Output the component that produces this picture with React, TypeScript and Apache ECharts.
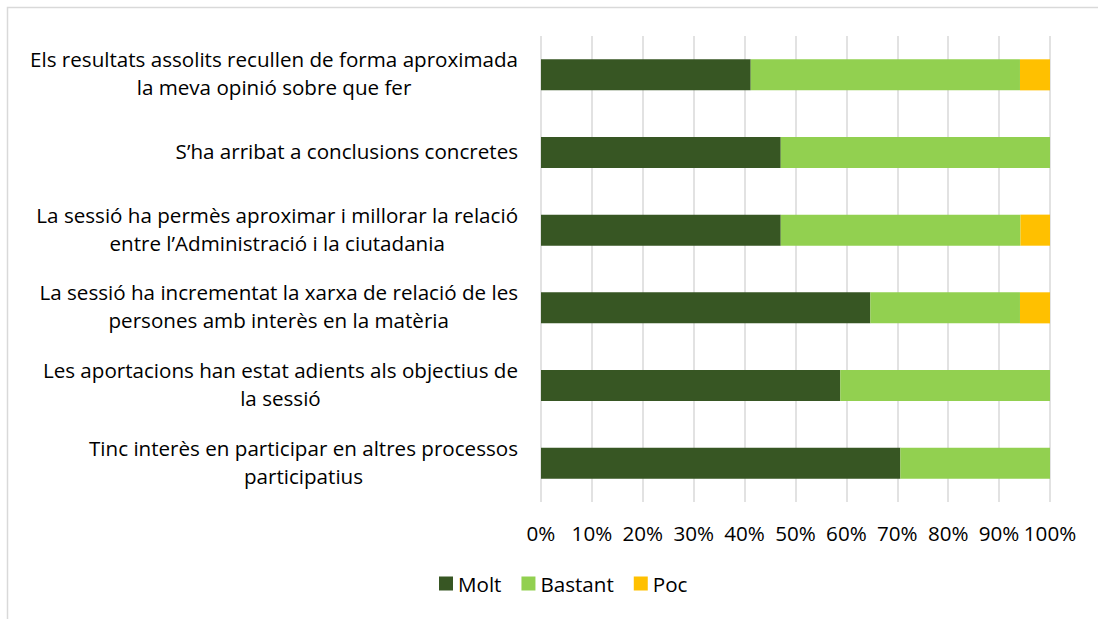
import React, { useEffect, useRef } from "react";
import * as echarts from "echarts";

const categories = [
  "Els resultats assolits recullen de forma aproximada\nla meva opinió sobre que fer",
  "S’ha arribat a conclusions concretes",
  "La sessió ha permès aproximar i millorar la relació\nentre l’Administració i la ciutadania",
  "La sessió ha incrementat la xarxa de relació de les\npersones amb interès en la matèria",
  "Les aportacions han estat adients als objectius de\nla sessió",
  "Tinc interès en participar en altres processos\nparticipatius",
];
const molt = [41.2, 47.1, 47.1, 64.7, 58.8, 70.6];
const bastant = [52.9, 52.9, 47.1, 29.4, 41.2, 29.4];
const poc = [5.9, 0, 5.9, 5.9, 0, 0];
const seriesNames = ["Molt", "Bastant", "Poc"];
const colors = ["#375623", "#92d050", "#ffc000"];

const FONT = "'Open Sans', Lato, sans-serif";
const FS = 20.6;

export default function App() {
  const ref = useRef<HTMLDivElement>(null);
  useEffect(() => {
    document.body.style.margin = "0";
    const chart = echarts.init(ref.current!, undefined, { renderer: "svg" });
    const data = [molt, bastant, poc];
    chart.setOption({
      animation: false,
      textStyle: { fontFamily: FONT },
      graphic: [
        {
          type: "rect",
          shape: { x: 7.5, y: 7.5, width: 1200, height: 700 },
          style: { fill: "none", stroke: "#d9d9d9", lineWidth: 1.5 },
          silent: true,
        },
      ],
      grid: { left: 541, right: 48, top: 36, bottom: 117 },
      legend: {
        bottom: 20,
        left: 434,
        itemWidth: 14,
        itemHeight: 14,
        itemGap: 20,
        icon: "rect",
        textStyle: { fontSize: FS, color: "#000", fontFamily: FONT },
        data: seriesNames,
      },
      xAxis: {
        type: "value",
        min: 0,
        max: 100,
        interval: 10,
        axisLabel: {
          formatter: "{value}%",
          fontSize: FS,
          color: "#000",
          margin: 20,
          fontFamily: FONT,
        },
        splitLine: { lineStyle: { color: "#d9d9d9", width: 1.5 } },
        axisLine: { show: false },
        axisTick: { show: false },
      },
      yAxis: {
        type: "category",
        inverse: true,
        data: categories,
        axisLine: { show: false },
        axisTick: { show: false },
        axisLabel: {
          color: "#000",
          margin: 23,
          align: "right",
          padding: [0, 0, 3, 0],
          formatter: (v: string) =>
            v
              .split("\n")
              .map((l) => "{c|" + l + "}")
              .join("\n"),
          rich: {
            c: {
              align: "center",
              fontSize: FS,
              lineHeight: 28,
              color: "#000",
              fontFamily: FONT,
            },
          },
        },
      },
      series: seriesNames.map((name, i) => ({
        name,
        type: "bar",
        stack: "total",
        barCategoryGap: "60%",
        itemStyle: { color: colors[i] },
        data: data[i],
      })),
    });
    return () => chart.dispose();
  }, []);
  return <div ref={ref} style={{ width: 1098, height: 619 }} />;
}
